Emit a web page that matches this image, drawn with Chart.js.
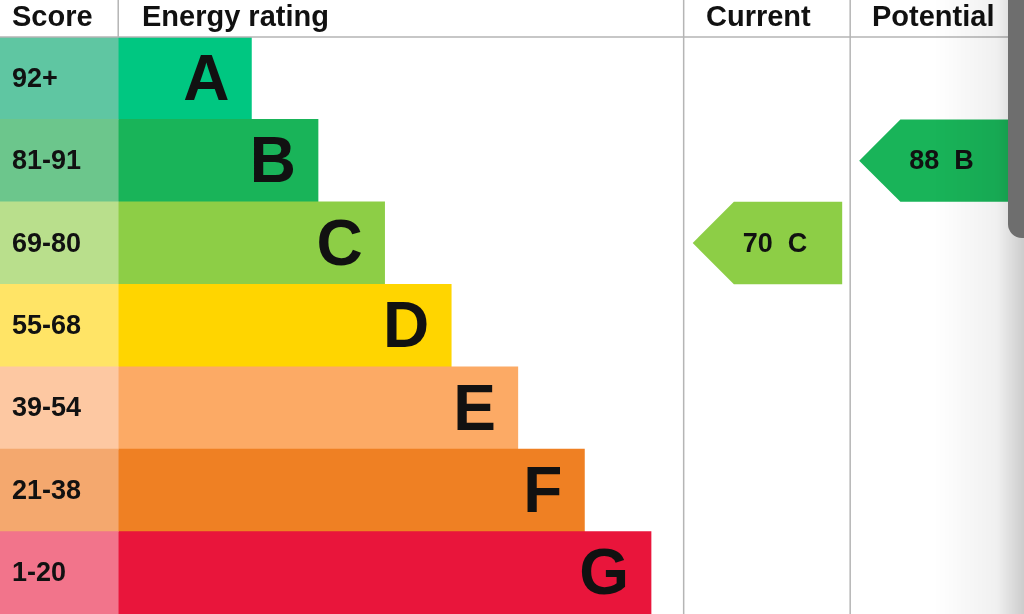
<!DOCTYPE html>
<html>
<head>
<meta charset="utf-8">
<script src="https://cdn.jsdelivr.net/npm/chart.js@4"></script>
<style>
  html, body { margin: 0; padding: 0; background: #fff; overflow: hidden; }
  #wrap { position: relative; width: 1024px; height: 614px; }
  #shade { position: absolute; right: 0; top: 0; width: 90px; height: 614px;
    background: linear-gradient(to right, rgba(0,0,0,0) 0%, rgba(0,0,0,0.06) 70%, rgba(0,0,0,0.2) 100%); pointer-events: none; }
  #bar { position: absolute; right: 0; top: 0; width: 16px; height: 238px; background: #6e6e6e; border-bottom-left-radius: 14px; }
</style>
</head>
<body>
<div id="wrap">
  <canvas id="myChart" width="1024" height="614"></canvas>
  <div id="shade"></div>
  <div id="bar"></div>
</div>
<script>
'use strict'

const ratings = ['A', 'B', 'C', 'D', 'E', 'F', 'G']
const scoreRanges = ['92+', '81-91', '69-80', '55-68', '39-54', '21-38', '1-20']
const barLengths = [2, 3, 4, 5, 6, 7, 8]
const bandColors = ['#00c781', '#19b459', '#8dce46', '#ffd500', '#fcaa65', '#ef8023', '#e9153b']
const scoreColors = ['#5fc6a2', '#6cc68c', '#b9df8c', '#ffe466', '#fdc8a2', '#f4a86e', '#f2748b']

const currentScore = 70
const currentRating = 'C'
const potentialScore = 88
const potentialRating = 'B'

// x axis in "band steps"; score column sits left of zero
const xMin = -1.775
const xMax = 13.6
const currentCol = [8.49, 10.99]
const potentialCol = [10.99, 13.6]

const ctx = document.getElementById('myChart')

const drawExtras = {
  id: 'drawExtras',
  afterDatasetsDraw(chart) {
    const c = chart.ctx
    const x = chart.scales.x
    const y = chart.scales.y
    const top = chart.chartArea.top
    const rowH = y.getPixelForValue(1) - y.getPixelForValue(0)
    const font = '"Liberation Sans", Arial, sans-serif'

    c.save()
    // score labels and rating letters
    ratings.forEach((r, i) => {
      const cy = y.getPixelForValue(i)
      c.fillStyle = '#111'
      c.textBaseline = 'middle'
      c.textAlign = 'left'
      c.font = 'bold 27px ' + font
      c.fillText(scoreRanges[i], 12, cy + 1)
      c.textAlign = 'right'
      c.font = 'bold 64px ' + font
      c.fillText(r, x.getPixelForValue(barLengths[i]) - 22, cy + 4)
    })

    // grid lines
    c.strokeStyle = '#b5b5b5'
    c.lineWidth = 1.5
    c.beginPath()
    c.moveTo(0, top); c.lineTo(1024, top)
    const xs = [x.getPixelForValue(0), x.getPixelForValue(currentCol[0]), x.getPixelForValue(currentCol[1])]
    xs.forEach((px, k) => {
      c.moveTo(px, 0); c.lineTo(px, k === 0 ? top : 614)
    })
    c.stroke()

    // headers
    c.fillStyle = '#111'
    c.textBaseline = 'middle'
    c.font = 'bold 29px ' + font
    c.textAlign = 'left'
    c.fillText('Score', 12, 18)
    c.fillText('Energy rating', 142, 18)
    c.fillText('Current', 706, 18)
    c.fillText('Potential', 872, 18)

    // arrows
    const arrow = (col, rating, score) => {
      const i = ratings.indexOf(rating)
      const cy = y.getPixelForValue(i)
      const x0 = x.getPixelForValue(col[0]) + 9
      const x1 = x.getPixelForValue(col[1]) - 8
      const h = rowH / 2
      c.fillStyle = bandColors[i]
      c.beginPath()
      c.moveTo(x0, cy)
      c.lineTo(x0 + h, cy - h)
      c.lineTo(x1, cy - h)
      c.lineTo(x1, cy + h)
      c.lineTo(x0 + h, cy + h)
      c.closePath()
      c.fill()
      c.fillStyle = '#111'
      c.textAlign = 'left'
      c.font = 'bold 27px ' + font
      c.fillText(score + '  ' + rating, x0 + 50, cy + 1)
    }
    arrow(currentCol, currentRating, currentScore)
    arrow(potentialCol, potentialRating, potentialScore)
    c.restore()
  }
}

new Chart(ctx, {
  type: 'bar',
  data: {
    labels: ratings,
    datasets: [
      {
        data: ratings.map(() => [xMin, 0]),
        backgroundColor: scoreColors,
        grouped: false,
        barPercentage: 1,
        categoryPercentage: 1
      },
      {
        data: barLengths.map(v => [0, v]),
        backgroundColor: bandColors,
        grouped: false,
        barPercentage: 1,
        categoryPercentage: 1
      }
    ]
  },
  options: {
    indexAxis: 'y',
    responsive: false,
    animation: false,
    layout: { padding: { top: 37, left: 0, right: 0, bottom: 0 } },
    plugins: { legend: { display: false }, tooltip: { enabled: false } },
    scales: {
      x: { type: 'linear', min: xMin, max: xMax, display: false },
      y: { display: false, offset: true }
    }
  },
  plugins: [drawExtras]
})
</script>
</body>
</html>
